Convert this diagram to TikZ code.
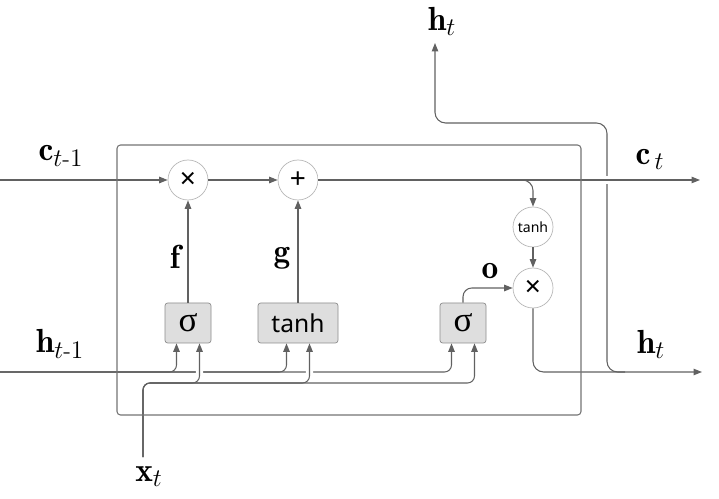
\documentclass[tikz,border=0pt]{standalone}
\usepackage{amsmath}
\usepackage{fontspec}
\newfontfamily\gatesans{Noto Sans}
\newfontfamily\gategreek{Liberation Serif}
\usetikzlibrary{arrows.meta,positioning}

\begin{document}
\begin{tikzpicture}[
        wire/.style={draw=black!62, line width=0.6pt},
        arr/.style={wire, -{Triangle[length=1.7mm,width=1.3mm]}},
        gatebox/.style={draw=black!45, fill=black!13, rounded corners=1.5pt, minimum width=0.92cm, minimum height=0.8cm, inner sep=0pt},
        opcirc/.style={circle, draw=black!28, fill=white, minimum size=0.8cm, inner sep=0pt, font=\gatesans\fontsize{16}{18}\selectfont},
        lbl/.style={font=\fontsize{19}{22}\selectfont},
        gap/.style={preaction={draw=white, line width=4pt}}
    ]
        \useasboundingbox (0,0) rectangle (14.38,9.96);
        % pointwise operations
        \node[opcirc] (mul1) at (3.76,6.36) {×};
        \node[opcirc] (add) at (5.96,6.36) {+};
        \node[opcirc, font=\gatesans\fontsize{8}{9}\selectfont] (tanhc) at (10.66,5.42) {tanh};
        \node[opcirc] (mul2) at (10.66,4.2) {×};
        % gates
        \node[gatebox, font=\gategreek\fontsize{20}{22}\selectfont] (fgate) at (3.76,3.5) {σ};
        \node[gatebox, minimum width=1.6cm, font=\gatesans\fontsize{14}{16}\selectfont] (ggate) at (5.96,3.5) {tanh};
        \node[gatebox, font=\gategreek\fontsize{20}{22}\selectfont] (ogate) at (9.26,3.5) {σ};
        % inputs of the gates
        \foreach \g in {fgate,ggate,ogate}{
            \coordinate (\g-h) at ([xshift=-2.3mm]\g.south);
            \coordinate (\g-x) at ([xshift=2.3mm]\g.south);
        }
        % ends of the wires
        \coordinate (cin) at (0,6.36);
        \coordinate (cout) at (14.0,6.36);
        \coordinate (cbr) at (10.36,6.36);
        \coordinate (hin) at (0,2.52);
        \coordinate (hout) at (14.04,2.52);
        \coordinate (hsplit) at (12.5,2.52);
        \coordinate (hturn) at (12.14,7.5);
        \coordinate (hup) at (8.7,9.1);
        \coordinate (xin) at (2.86,0.82);
        \coordinate (xrow) at (0,2.3);
        % labels
        \node[lbl] (clast) at (1.22,6.84) {$\mathbf{c}_{t\text{-}1}$};
        \node[lbl] (hlast) at (1.2,3.08) {$\mathbf{h}_{t\text{-}1}$};
        \node[lbl] (cnext) at (13.0,6.78) {$\mathbf{c}_{\,t}$};
        \node[lbl] (hnext) at (13.02,3.08) {$\mathbf{h}_t$};
        \node[lbl] (htop) at (8.84,9.54) {$\mathbf{h}_t$};
        \node[lbl] (xnow) at (2.98,0.42) {$\mathbf{x}_t$};
        \node[lbl] (flbl) at (3.5,4.82) {$\mathbf{f}$};
        \node[lbl] (glbl) at (5.64,4.8) {$\mathbf{g}$};
        \node[lbl] (olbl) at (9.8,4.54) {$\mathbf{o}$};
        % hidden state into the gates
        \foreach \g in {fgate,ggate,ogate}
            \draw[arr, rounded corners=4pt] (hin) -| (\g-h);
        % input x_t, crossing over the hidden state
        \foreach \g in {fgate,ggate,ogate}
            \draw[white, line width=4pt, rounded corners=4pt, shorten >=2pt] (xin) |- (xrow -| \g-x) -- (\g-x);
        \foreach \g in {ogate,ggate,fgate}
            \draw[arr, rounded corners=4pt] (xin) |- (xrow -| \g-x) -- (\g-x);
        % gate outputs
        \draw[arr] (fgate) -- (mul1);
        \draw[arr] (ggate) -- (add);
        \draw[arr, rounded corners=5pt] (ogate.north) |- (mul2);
        % new hidden state
        \draw[arr, rounded corners=6pt] (mul2) |- (hout);
        \draw[arr, rounded corners=6pt] (hsplit) -| (hturn) -| (hup);
        % cell state
        \draw[arr] (cin) -- (mul1);
        \draw[arr] (mul1) -- (add);
        \draw[arr, gap] (add) -- (cout);
        \draw[arr, rounded corners=6pt] (cbr) -| (tanhc);
        \draw[arr] (tanhc) -- (mul2);
        % the cell
        \draw[draw=black!55, line width=0.6pt, rounded corners=2pt] (2.34,1.66) rectangle (11.62,7.06);
    \end{tikzpicture}
\end{document}
